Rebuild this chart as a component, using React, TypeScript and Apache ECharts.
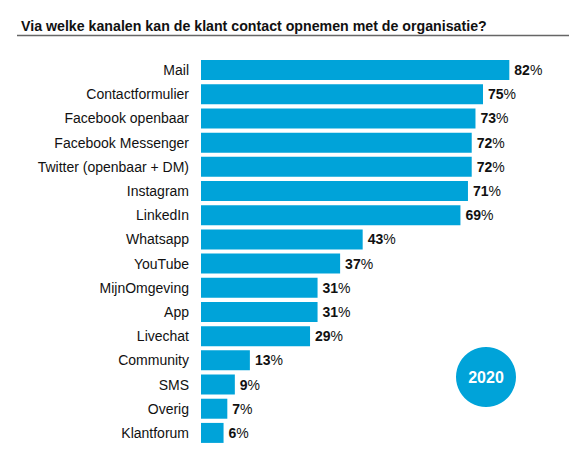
import * as echarts from "echarts";
import { useEffect, useRef } from "react";

const categories = [
  "Mail",
  "Contactformulier",
  "Facebook openbaar",
  "Facebook Messenger",
  "Twitter (openbaar + DM)",
  "Instagram",
  "LinkedIn",
  "Whatsapp",
  "YouTube",
  "MijnOmgeving",
  "App",
  "Livechat",
  "Community",
  "SMS",
  "Overig",
  "Klantforum",
];
const values = [82, 75, 73, 72, 72, 71, 69, 43, 37, 31, 31, 29, 13, 9, 7, 6];
const title = "Via welke kanalen kan de klant contact opnemen met de organisatie?";
const yearLabel = "2020";

const BLUE = "#00a3d9";
const FONT = "'Liberation Sans', Arial, Helvetica, sans-serif";

export default function App() {
  const chartRef = useRef<HTMLDivElement>(null);
  useEffect(() => {
    document.body.style.margin = "0";
    const chart = echarts.init(chartRef.current, null, { renderer: "svg" });
    chart.setOption(getChartOption());
    return () => {
      chart.dispose();
    };
  }, []);
  return <div ref={chartRef} style={{ width: "577px", height: "454px" }} />;
}

function getChartOption() {
  return {
    animation: false,
    backgroundColor: "#fff",
    textStyle: { fontFamily: FONT },
    title: {
      text: title,
      left: 16,
      top: 14,
      textStyle: { fontFamily: FONT, fontSize: 14.2, fontWeight: "bold", color: "#111" },
    },
    grid: { left: 201, top: 58, width: 378, height: 387 },
    xAxis: { type: "value", min: 0, max: 100, show: false },
    yAxis: {
      type: "category",
      data: categories,
      inverse: true,
      axisLine: { show: false },
      axisTick: { show: false },
      axisLabel: { margin: 12, fontSize: 14, color: "#111", fontFamily: FONT },
    },
    series: [
      {
        type: "bar",
        data: values,
        barWidth: 20,
        itemStyle: { color: BLUE },
        label: {
          show: true,
          position: "right",
          distance: 5,
          formatter: (p: any) => `{b|${p.value}}{r|%}`,
          rich: {
            b: { fontSize: 14, fontWeight: "bold", color: "#111", fontFamily: FONT },
            r: { fontSize: 14, color: "#111", fontFamily: FONT },
          },
        },
      },
    ],
    graphic: [
      {
        type: "line",
        shape: { x1: 17, y1: 35.5, x2: 569, y2: 35.5 },
        style: { stroke: "#666", lineWidth: 1.4 },
      },
      {
        type: "circle",
        shape: { cx: 486, cy: 377, r: 30 },
        style: { fill: BLUE },
      },
      {
        type: "text",
        x: 486,
        y: 377,
        style: {
          text: yearLabel,
          fill: "#fff",
          font: `bold 16px ${FONT}`,
          textAlign: "center",
          textVerticalAlign: "middle",
        },
      },
    ],
  };
}
